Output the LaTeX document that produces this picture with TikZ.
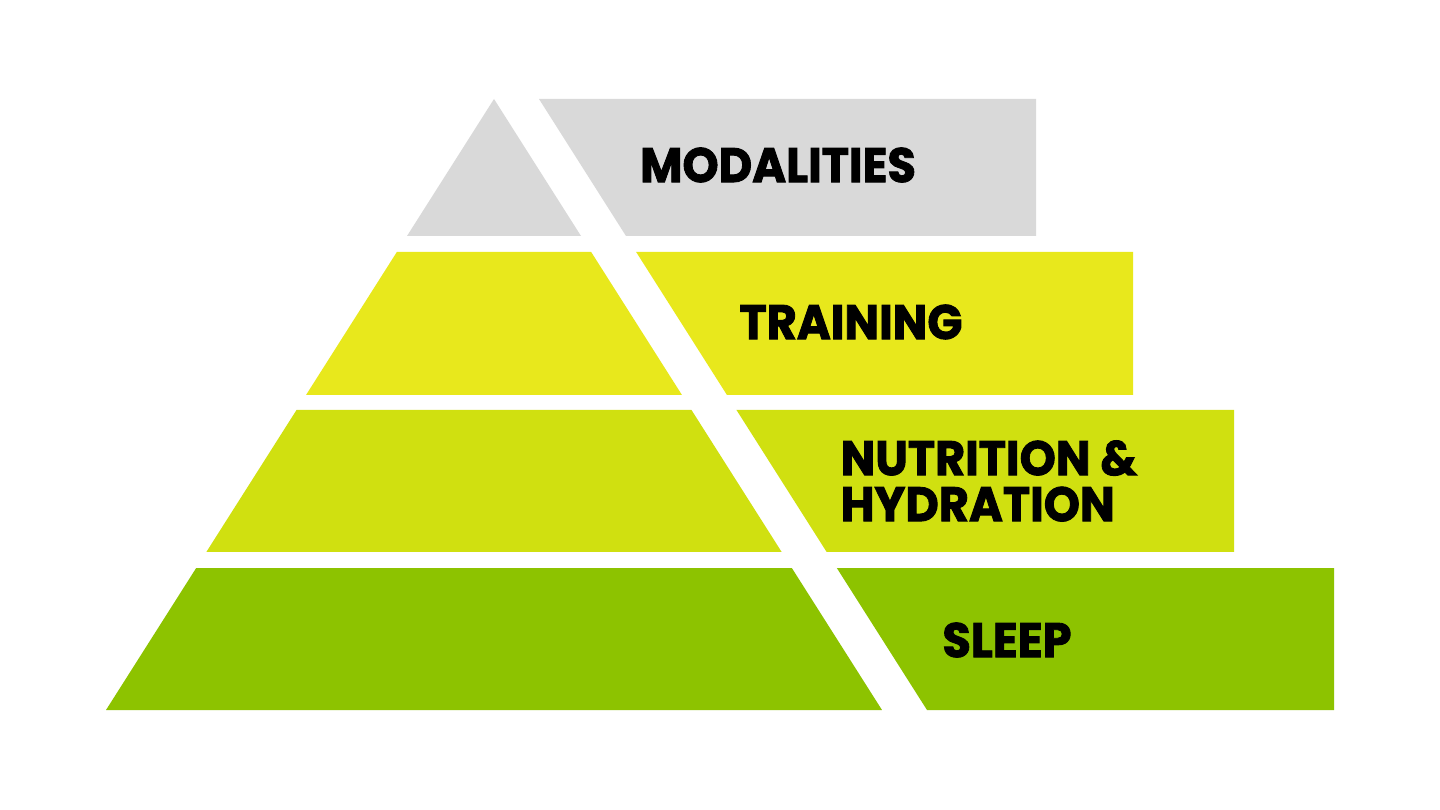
\documentclass[tikz,border=0pt]{standalone}
\usepackage{fontspec}
\newfontfamily\heavyfont{Poppins}[BoldFeatures={FakeBold=1.8,FakeStretch=0.95}]
\usepackage{tikz}

\definecolor{tierA}{RGB}{217,217,217}
\definecolor{tierB}{RGB}{232,232,28}
\definecolor{tierC}{RGB}{208,224,16}
\definecolor{tierD}{RGB}{141,195,0}

\begin{document}
\begin{tikzpicture}[x=0.01cm, y=-0.01cm]
	\useasboundingbox[fill=white] (0,0) rectangle (1440,810);
	\tikzstyle{tierlabel}=[font=\heavyfont\bfseries\fontsize{13.8}{13.1}\selectfont, text=black, inner sep=0pt]
	% left part of each tier and its box on the right
	\foreach \t/\yt/\yb/\xr/\col in {1/99/236/1036/tierA,2/252/395/1133/tierB,3/410/552/1234/tierC,4/568/710/1334/tierD} {
	    \fill[\col] ({494-0.635*(\yt-99)},\yt) -- ({494+0.635*(\yt-99)},\yt) -- ({494+0.635*(\yb-99)},\yb) -- ({494-0.635*(\yb-99)},\yb) -- cycle;
	    \fill[\col] ({539+0.635*(\yt-99)},\yt) -- (\xr,\yt) -- (\xr,\yb) -- ({539+0.635*(\yb-99)},\yb) -- cycle;
	}
	\node[tierlabel] (modalities) at (778,165) {MODALITIES};
	\node[tierlabel] (training) at (851,322) {TRAINING};
	\node[tierlabel, anchor=west, align=left] (nutrition) at (840,481) {NUTRITION \&\\HYDRATION};
	\node[tierlabel] (sleep) at (1007,640) {SLEEP};
\end{tikzpicture}
\end{document}
